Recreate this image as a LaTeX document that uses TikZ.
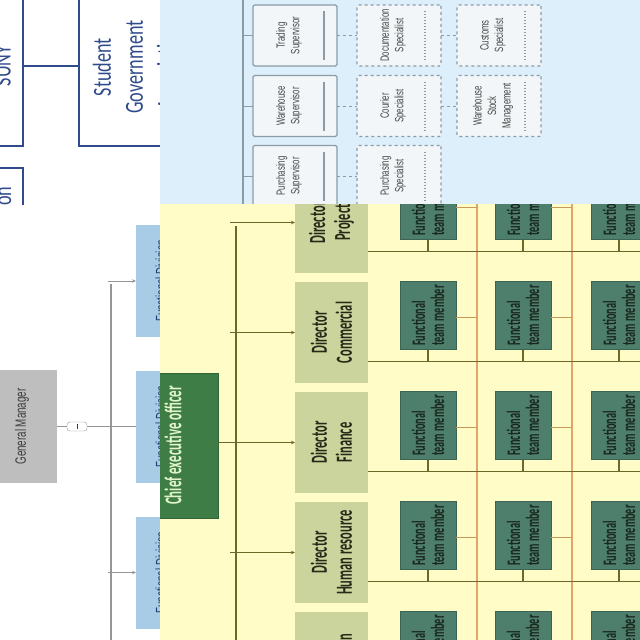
\documentclass[tikz,border=0pt]{standalone}
\usepackage{fontspec}
\setmainfont{Carlito}
\usepackage{xcolor}
\usepackage{tikz}
\usetikzlibrary{arrows.meta,positioning}
\newfontfamily\sunyfont[FakeStretch=0.7]{Carlito}
\newfontfamily\condfont[FakeStretch=0.54]{Carlito}
\newfontfamily\narrowfont[FakeStretch=0.65]{Liberation Sans}
\definecolor{azulLinea}{RGB}{47,75,140}
\definecolor{grisGM}{RGB}{190,190,190}
\definecolor{grisTexto}{RGB}{60,60,60}
\definecolor{grisLinea}{RGB}{150,150,150}
\definecolor{azulDiv}{RGB}{168,204,230}
\definecolor{azulDivTexto}{RGB}{31,62,110}
\definecolor{azulFondo}{RGB}{220,239,250}
\definecolor{supFondo}{RGB}{243,246,248}
\definecolor{supLinea}{RGB}{140,156,166}
\definecolor{supTexto}{RGB}{70,70,70}
\definecolor{amarilloFondo}{RGB}{255,252,200}
\definecolor{verdeCEO}{RGB}{62,125,70}
\definecolor{verdeCEOTexto}{RGB}{225,245,200}
\definecolor{dirFondo}{RGB}{202,212,156}
\definecolor{dirTexto}{RGB}{40,40,25}
\definecolor{olivaLinea}{RGB}{110,104,40}
\definecolor{proyLinea}{RGB}{226,164,104}
\definecolor{equipoFondo}{RGB}{78,126,108}
\definecolor{equipoLinea}{RGB}{60,100,85}
\definecolor{equipoTexto}{RGB}{25,40,30}

\begin{document}
\begin{tikzpicture}[x=1pt,y=-1pt,
  box/.style={inner sep=0pt, outer sep=0pt},
  sunybox/.style={box, draw=azulLinea, line width=1.5pt},
  sunytext/.style={rotate=90, text=azulLinea, align=center,
    font=\sunyfont\fontsize{26}{32}\selectfont},
  gmbox/.style={box, fill=grisGM},
  gmtext/.style={rotate=90, text=grisTexto, font=\narrowfont\fontsize{15}{17}\selectfont},
  gmline/.style={draw=grisLinea, line width=0.8pt},
  divbox/.style={box, fill=azulDiv},
  divtext/.style={rotate=90, text=azulDivTexto, font=\narrowfont\fontsize{15}{17}\selectfont},
  collapse/.style={draw=grisLinea, fill=white, rounded corners=3pt, minimum width=20pt,
    minimum height=9pt, inner sep=0pt},
  logline/.style={draw=supLinea, line width=1pt},
  supbox/.style={box, draw=supLinea, fill=supFondo, line width=1.2pt, rounded corners=1.5pt,
    minimum width=84pt, minimum height=61pt},
  specbox/.style={supbox, dashed},
  suptext/.style={rotate=90, text=supTexto, align=center,
    font=\narrowfont\fontsize{12}{14.5}\selectfont},
  ceobox/.style={box, fill=verdeCEO, draw=verdeCEO!80!black},
  ceotext/.style={rotate=90, text=verdeCEOTexto, font=\condfont\bfseries\fontsize{24}{26}\selectfont},
  dirbox/.style={box, fill=dirFondo, minimum width=73pt, minimum height=101pt},
  dirtext/.style={rotate=90, text=dirTexto, align=center,
    font=\condfont\bfseries\fontsize{23}{25}\selectfont},
  oliveline/.style={draw=olivaLinea, line width=1pt},
  projline/.style={draw=proyLinea, line width=2.5pt},
  teambox/.style={box, fill=equipoFondo, draw=equipoLinea, minimum width=56pt, minimum height=68pt},
  teamtext/.style={rotate=90, text=equipoTexto, align=left,
    font=\condfont\bfseries\fontsize{19}{19}\selectfont},
  arr/.style={-{Stealth[length=4pt,width=3.5pt]}}]
  \useasboundingbox (0,0) rectangle (640,640);
  \fill[white] (0,0) rectangle (640,640);

  % SUNY chart, top left
  \begin{scope}
    \clip (0,0) rectangle (160,205);
    \node[sunybox, minimum width=83pt, minimum height=160pt] (suny) at (-18.5,66) {};
    \node[sunybox, minimum width=161pt, minimum height=160pt] (sga) at (159.5,66) {};
    \node[sunybox, minimum width=83pt, minimum height=100pt] (found) at (-18.5,218) {};
    \draw[azulLinea, line width=1.5pt] (suny.east) -- (sga.west);
    \node[sunytext, anchor=base] (sunyname) at (10.5,66) {SUNY};
    \node[sunytext] (sganame) at (134,67) {Student\\Government\\Association};
    \node[sunytext, anchor=base east] (foundname) at (11,183) {Foundation};
  \end{scope}

  % General manager chart, left
  \fill[white] (0,205) rectangle (160,640);
  \node[gmbox, minimum width=67pt, minimum height=113pt] (gm) at (23.5,426.5) {};
  \node[gmtext] (gmname) at (22,426.5) {General Manager};
  \foreach \n/\y in {1/281,2/426.5,3/572.5} {
    \node[divbox, minimum width=64pt, minimum height=112pt] (fd\n) at (168,\y) {};
    \node[divtext, anchor=north] at (152,\y) {Functional Division};
  }
  \coordinate (gmbar) at (111,284);
  \coordinate (gmstub) at (108,0);
  \draw[gmline] (gm.east) -- (fd2.west);
  \node[collapse] (gmbtn) at (77,426.5) {};
  \draw[grisTexto, line width=0.8pt] (gmbtn.center) ++(0,-2.5) -- ++(0,5);
  \draw[grisLinea, line width=2pt] (gmbar) -- (gmbar |- 0,645);
  \draw[gmline, arr] (fd1.west -| gmstub) -- (fd1.west);
  \draw[gmline, arr] (fd3.west -| gmstub) -- (fd3.west);

  % Logistics chart, top right
  \fill[azulFondo] (160,0) rectangle (640,204);
  \begin{scope}
    \clip (160,0) rectangle (640,204);
    \coordinate (logbar) at (243,0);
    \draw[logline, line width=2pt] (243,-5) -- (243,220);
    \foreach \n/\y/\supname/\specname in {1/35.5/Trading/Documentation,
        2/106/Warehouse/Courier, 3/176/Purchasing/Purchasing} {
      \node[supbox] (sup\n) at (295,\y) {};
      \draw[logline, line width=1.5pt] (sup\n.north east) ++(-13,6) -- ++(0,49);
      \node[suptext] at (289,\y) {\supname\\Supervisor};
      \node[specbox] (spec\n) at (399,\y) {};
      \draw[logline, dotted, line width=1.2pt] (spec\n.north east) ++(-16,6) -- ++(0,49);
      \node[suptext] at (393,\y) {\specname\\Specialist};
      \draw[logline] (sup\n.west -| logbar) -- (sup\n.west);
      \draw[logline, dashed] (sup\n.east) -- (spec\n.west);
    }
    \node[specbox] (cus1) at (499,35.5) {};
    \draw[logline, dotted, line width=1.2pt] (cus1.north east) ++(-16,6) -- ++(0,49);
    \node[suptext] at (493,35.5) {Customs\\Specialist};
    \node[specbox] (cus2) at (499,106) {};
    \draw[logline, dotted, line width=1.2pt] (cus2.north east) ++(-16,6) -- ++(0,49);
    \node[suptext] at (493,106) {Warehouse\\Stock\\Management};
    \draw[logline, dashed] (spec1.east) -- (cus1.west);
    \draw[logline, dashed] (spec2.east) -- (cus2.west);
  \end{scope}

  % CEO matrix chart, bottom right
  \fill[amarilloFondo] (160,204) rectangle (640,640);
  \begin{scope}
    \clip (160,204) rectangle (640,640);
    \foreach \x in {477,572}
      \draw[projline] (\x,204) -- (\x,640);
    \node[ceobox, minimum width=68pt, minimum height=145pt] (ceo) at (184,445.5) {};
    \node[ceotext] (ceoname) at (173,445.5) {Chief executive officer};
    \coordinate (ceobar) at (236,226);
    \coordinate (ceostub) at (230,0);
    \draw[olivaLinea, line width=1.5pt] (ceobar) -- (ceobar |- 0,645);
    \foreach \i/\dname in {1/Project,2/Commercial,3/Finance,4/Human resource,5/Production} {
      \pgfmathsetmacro\yc{112.5+110*\i}
      \node[dirbox] (dir\i) at (331.5,\yc) {};
      \node[dirtext] at (331.5,\yc) {Director\\\dname};
      \draw[oliveline] (dir\i.east) ++(0,29) -- ++(280,0);
      \foreach \j/\x in {1/428,2/523,3/619} {
        \node[teambox] (tm\i\j) at (\x,\yc-17) {};
        \node[teamtext] at (tm\i\j) {Functional\\team member};
        \draw[olivaLinea, line width=1.5pt] (tm\i\j.south) -- ++(0,12);
        \draw[proyLinea!80!olivaLinea, line width=0.8pt] (tm\i\j.east) ++(0,2) -- ++(21,0);
      }
    }
    \draw[oliveline, arr] (dir1.west -| ceostub) -- (dir1.west);
    \draw[oliveline, arr] (dir2.west -| ceostub) -- (dir2.west);
    \draw[oliveline, arr] (ceo.east |- dir3.west) -- (dir3.west);
    \draw[oliveline, arr] (dir4.west -| ceostub) -- (dir4.west);
  \end{scope}
\end{tikzpicture}
\end{document}
